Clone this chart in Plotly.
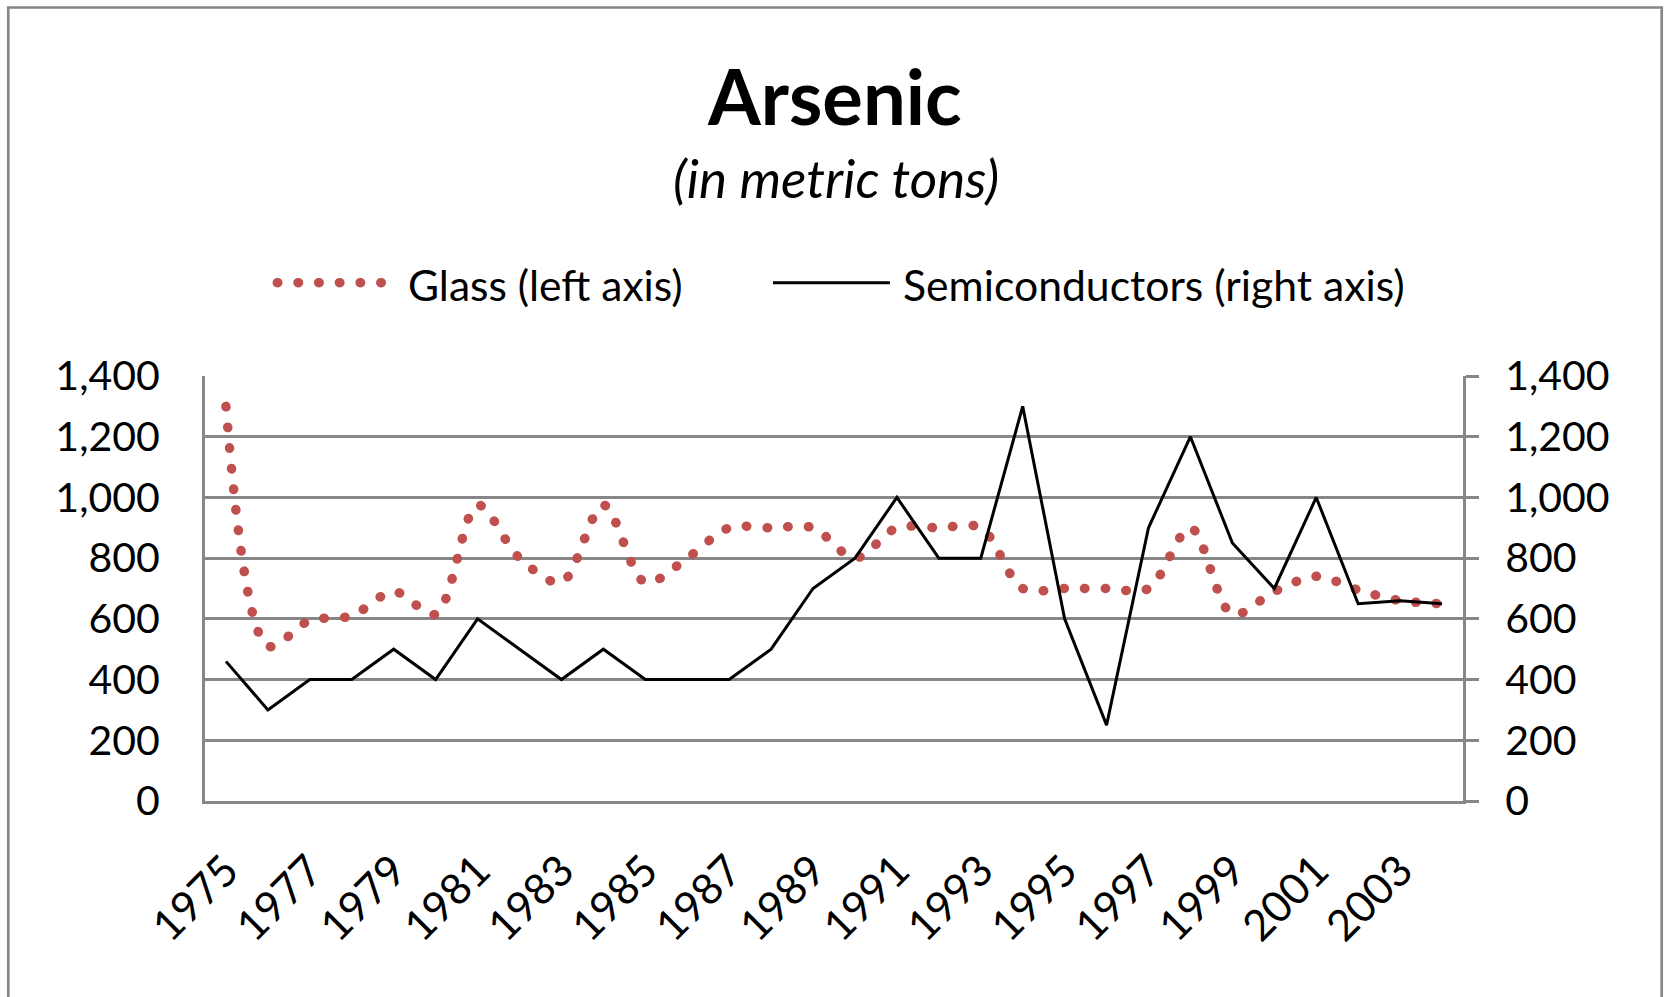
import plotly.graph_objects as go

years = list(range(1975, 2005))
glass = [1300, 510, 595, 610, 690, 615, 975, 800, 720, 975,
         720, 800, 900, 900, 900, 800, 900, 900, 900, 700,
         700, 700, 700, 900, 615, 690, 740, 695, 660, 650]
semis = [460, 300, 400, 400, 500, 400, 600, 500, 400, 500,
         400, 400, 400, 500, 700, 800, 1000, 800, 800, 1300,
         600, 250, 900, 1200, 850, 700, 1000, 650, 660, 650]
tick_years = years[::2]
y_ticks = [0, 200, 400, 600, 800, 1000, 1200, 1400]

W, H = 1666, 997
L, R, T, B = 205, 1463, 376, 801   # plot area in pixels
GRAY = "#878787"
RED = "#C0504D"
FONT = "Lato"


def px(x):
    return (x - L) / (R - L)


def py(y):
    return (B - y) / (B - T)


fig = go.Figure()
fig.add_trace(go.Scatter(
    x=years, y=glass, name="Glass (left axis)", mode="lines",
    line=dict(color=RED, width=9.5, dash="0.5px,20.2px", shape="spline", smoothing=0.9),
    showlegend=False))
fig.add_trace(go.Scatter(
    x=years, y=semis, name="Semiconductors (right axis)", mode="lines", yaxis="y2",
    line=dict(color="black", width=3), showlegend=False))

axis_font = dict(family=FONT, size=41, color="black")
fig.update_layout(
    width=W, height=H,
    margin=dict(l=L, r=W - R, t=T, b=H - B),
    paper_bgcolor="white", plot_bgcolor="white",
    font=dict(family=FONT, color="black"),
    xaxis=dict(range=[1974.5, 2004.5], tickmode="array", tickvals=tick_years,
               ticktext=[str(y) for y in tick_years], tickangle=-45,
               tickfont=dict(family=FONT, size=43, color="black"),
               showgrid=False, zeroline=False,
               showline=True, linecolor=GRAY, linewidth=3, ticks="",
               ticklabelstandoff=24),
    yaxis=dict(range=[0, 1400], tickmode="array", tickvals=y_ticks,
               tickformat=",", tickfont=axis_font, showgrid=True,
               gridcolor=GRAY, gridwidth=2.6, zeroline=False,
               showline=True, linecolor=GRAY, linewidth=3, ticks="",
               ticklabelstandoff=34),
    yaxis2=dict(range=[0, 1400], tickmode="array", tickvals=y_ticks,
                tickformat=",", tickfont=axis_font, overlaying="y", side="right",
                showgrid=False, zeroline=False, showline=True, linecolor=GRAY,
                linewidth=3, ticks="outside", ticklen=13, tickwidth=2.6,
                tickcolor=GRAY, ticklabelstandoff=18),
)

annotations = [
    dict(text="<b>Arsenic</b>", x=px(834), y=py(95), font=dict(family=FONT, size=76)),
    dict(text="<i>(in metric tons)</i>", x=px(836), y=py(177), font=dict(family=FONT, size=53)),
    dict(text="Glass (left axis)", x=px(406), y=py(284), xanchor="left",
         font=dict(family=FONT, size=42.5)),
    dict(text="Semiconductors (right axis)", x=px(901), y=py(284), xanchor="left",
         font=dict(family=FONT, size=42.7)),
]
for a in annotations:
    a.update(xref="paper", yref="paper", showarrow=False)
    a.setdefault("xanchor", "center")
    a.setdefault("yanchor", "middle")
fig.update_layout(annotations=annotations)

shapes = [
    # chart border
    dict(type="rect", xref="paper", yref="paper", x0=px(8.3), x1=px(1661.7),
         y0=py(1010), y1=py(7.5), line=dict(color=GRAY, width=2.7)),
    # legend: glass dotted sample
    dict(type="line", xref="paper", yref="paper", x0=px(277.3), x1=px(385),
         y0=py(282.7), y1=py(282.7), line=dict(color=RED, width=9.5, dash="0.5px,20.2px")),
    # legend: semiconductors sample
    dict(type="line", xref="paper", yref="paper", x0=px(773), x1=px(890),
         y0=py(282.7), y1=py(282.7), line=dict(color="black", width=3)),
]
fig.update_layout(shapes=shapes)

post = """
document.body.style.margin = '0';
var gd = document.getElementById('{plot_id}');
function roundDots(){
  gd.querySelectorAll('path').forEach(function(p){
    var d = p.style.strokeDasharray;
    if (d && d !== 'none' && d !== '') { p.style.strokeLinecap = 'round'; }
  });
}
roundDots();
gd.on('plotly_afterplot', roundDots);
"""
fig.write_html("out.html", post_script=post, config={"displayModeBar": False})
